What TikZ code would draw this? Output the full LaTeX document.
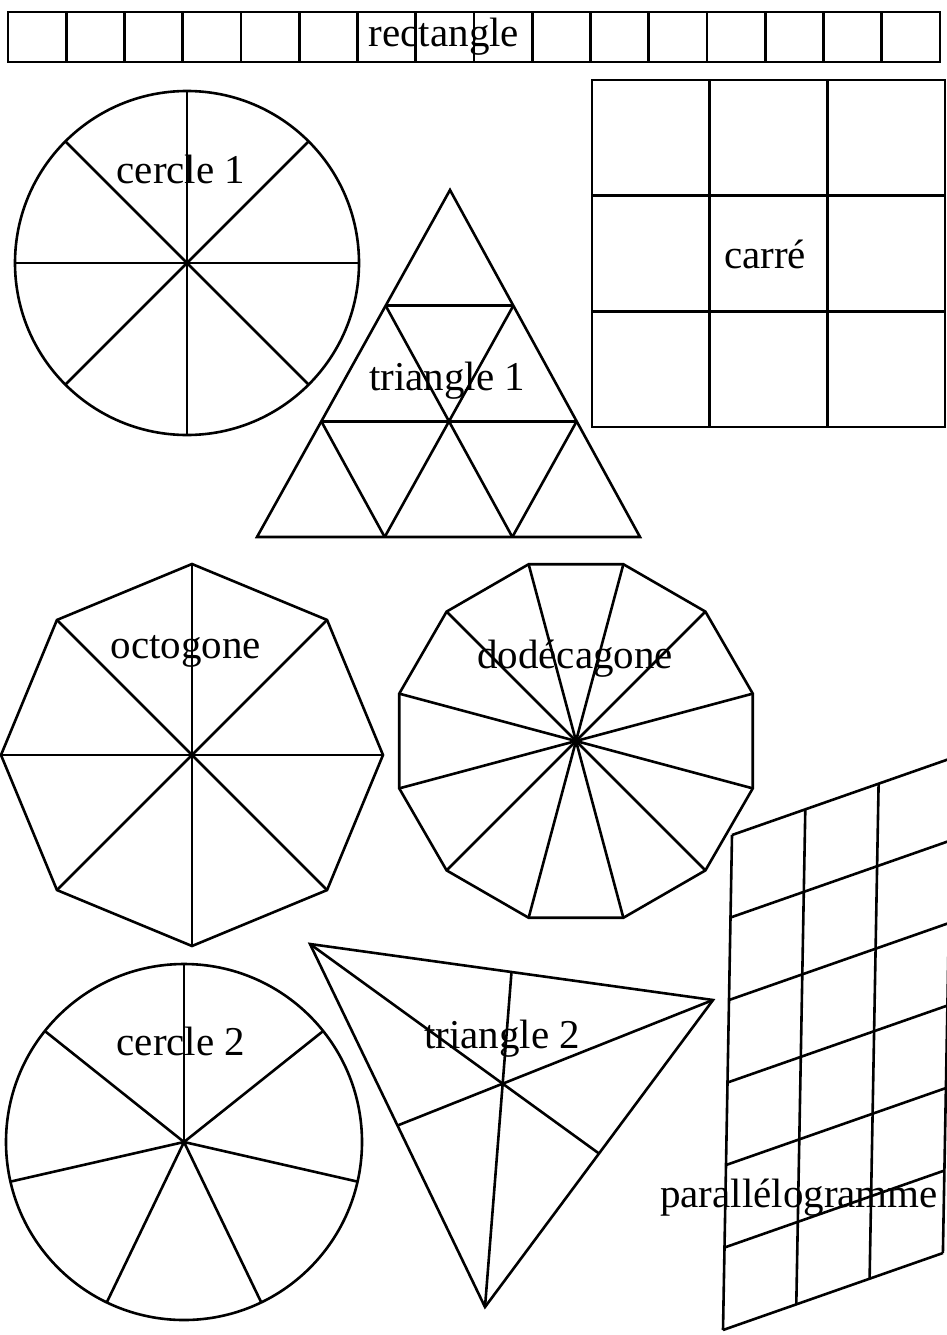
\documentclass[tikz,border=0pt]{standalone}
\usepackage{fontspec}
\setmainfont{Liberation Serif}
\usetikzlibrary{calc}

\begin{document}
\begin{tikzpicture}[x=1pt, y=-1pt, line width=2.6pt]
\useasboundingbox (0,0) rectangle (947,1335);
\tikzset{every node/.style={anchor=base, inner sep=0pt, font=\fontsize{41}{48}\selectfont}}

% rectangle
\draw (8,12) rectangle (940,62);
\foreach \i in {1,...,15} \draw ({8+\i*58.25},12) -- ++(0,50);
\node (rect) at (444,47) {rectangle};

% carre
\draw (592,80) rectangle (945,427);
\foreach \i in {1,2} {
    \draw ({592+\i*117.7},80) -- ++(0,347);
    \draw (592,{80+\i*115.7}) -- ++(353,0);
}
\node (carre) at (765,268) {carré};

% cercle 1
\coordinate (c1) at (187,263);
\draw (c1) circle[radius=172];
\foreach \a in {0,45,...,315} \draw (c1) -- +(\a:172);
\node (cercle1) at (181,183) {cercle 1};

% triangle 1
\coordinate (t1a) at (450,190);
\coordinate (t1b) at (257,537);
\coordinate (t1c) at (640,537);
\draw (t1a) -- (t1b) -- (t1c) -- cycle;
\foreach \i in {1,2} {
    \draw ($(t1a)!\i/3!(t1b)$) -- ($(t1a)!\i/3!(t1c)$);
    \draw ($(t1b)!\i/3!(t1a)$) -- ($(t1b)!\i/3!(t1c)$);
    \draw ($(t1c)!\i/3!(t1a)$) -- ($(t1c)!\i/3!(t1b)$);
}
\node (tri1) at (447,390) {triangle 1};

% octogone
\coordinate (oct) at (192,755);
\draw (oct) +(0:191) \foreach \a in {45,90,...,315} { -- +(\a:191) } -- cycle;
\foreach \a in {0,45,...,315} \draw (oct) -- +(\a:191);
\node (octo) at (186,658) {octogone};

% dodecagone
\coordinate (dod) at (576,741);
\draw (dod) +(15:183) \foreach \a in {45,75,...,345} { -- +(\a:183) } -- cycle;
\foreach \a in {15,45,...,345} \draw (dod) -- +(\a:183);
\node (dodeca) at (575,668) {dodécagone};

% cercle 2
\coordinate (c2) at (184,1142);
\draw (c2) circle[radius=178];
\foreach \k in {0,...,6} \draw (c2) -- +({-90+\k*360/7}:178);
\node (cercle2) at (181,1055) {cercle 2};

% triangle 2
\coordinate (t2a) at (310,944);
\coordinate (t2b) at (713,1000);
\coordinate (t2c) at (485,1307);
\draw (t2a) -- (t2b) -- (t2c) -- cycle;
\draw (t2a) -- ($(t2b)!.5!(t2c)$);
\draw (t2b) -- ($(t2a)!.5!(t2c)$);
\draw (t2c) -- ($(t2a)!.5!(t2b)$);
\node (tri2) at (502,1048) {triangle 2};

% parallelogramme
\coordinate (p) at (723,1330);
\foreach \i in {0,...,3} \draw ($(p)+\i*(73.3,-25.7)$) -- ++(9,-495);
\foreach \j in {0,...,6} \draw ($(p)+\j*(1.5,-82.5)$) -- ++(220,-77);
\node (para) at (799,1207) {parallélogramme};
\end{tikzpicture}
\end{document}
